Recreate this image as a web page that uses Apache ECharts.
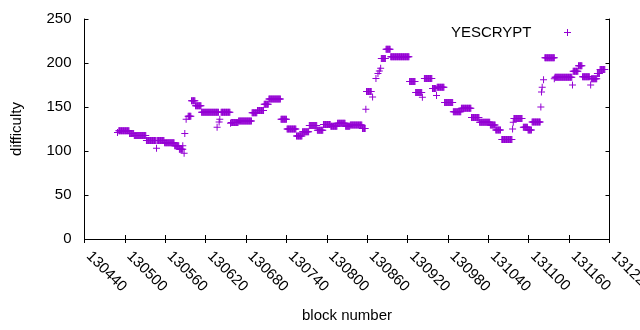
<!DOCTYPE html>
<html>
<head>
<meta charset="utf-8">
<script src="https://cdn.jsdelivr.net/npm/echarts@6/dist/echarts.min.js"></script>
<style>html,body{margin:0;padding:0;background:#fff}#c{width:640px;height:330px}</style>
</head>
<body>
<div id="c"></div>
<script>
// Difficulty per block, stored as runs of constant difficulty
const runStart = [130489,130491,130507,130514,130532,130547,130548,130559,130574,130581,130586,130588,130589,130591,130594,130599,130605,130614,130637,130640,130641,130643,130657,130658,130669,130689,130697,130707,130714,130732,130741,130755,130764,130774,130786,130795,130806,130816,130828,130835,130853,130858,130859,130868,130873,130876,130878,130880,130881,130888,130895,130923,130932,130942,130945,130957,130963,130964,130975,130988,131000,131015,131027,131043,131051,131060,131076,131077,131078,131092,131099,131105,131118,131119,131120,131122,131124,131138,131139,131165,131166,131174,131180,131192,131193,131202,131206];
const runEnd   = [130489,130506,130513,130531,130546,130547,130558,130573,130580,130586,130586,130588,130589,130591,130598,130604,130613,130639,130637,130640,130641,130656,130657,130668,130688,130696,130706,130713,130731,130740,130754,130763,130773,130785,130794,130805,130815,130827,130834,130852,130857,130858,130866,130868,130873,130876,130878,130880,130887,130894,130922,130931,130941,130942,130956,130962,130963,130974,130987,130999,131014,131026,131042,131050,131058,131075,131076,131077,131090,131098,131104,131117,131118,131119,131120,131122,131138,131138,131164,131165,131173,131179,131190,131192,131201,131205,131213];
const runDifficulty = [121,123,120,117.5,112,103,112,109.5,106,102,106,97.5,120,136,139.5,157,151.5,144,127,133,136,144,131.5,132.5,134,143.5,146,153,159,136,125,117,122,129,123.5,130,128,131.5,128,129.5,125.5,147.5,167.5,161.5,182.5,188,191,194,205,215.5,207,179,166.5,161,182.5,171,163,172.5,155,144.5,148.5,138,132.8,129.5,124,113,125,132.6,137,127,124,133,150,167,172.5,181,206,182,183.7,175,190.5,197,184.5,175,182,188,192.5];
const xTicks = {min: 130440, max: 131220, step: 60};
const yTicks = {min: 0, max: 250, step: 50};
const seriesName = 'YESCRYPT';

const points = [];
for (let i = 0; i < runStart.length; i++) {
  for (let b = runStart[i]; b <= runEnd[i]; b++) points.push([b, runDifficulty[i]]);
}

const plus = 'path://M0,3H7V4H0Z M3,0H4V7H3Z';
const font = 'Liberation Sans, Arial, sans-serif';
const purple = '#9400D3';
const chart = echarts.init(document.getElementById('c'), null, {renderer: 'canvas'});
const axisLine = {show: true, lineStyle: {color: '#000', width: 1}};
chart.setOption({
  animation: false,
  backgroundColor: '#fff',
  grid: {left: 84.5, right: 30.5, top: 19, bottom: 91, containLabel: false, outerBoundsMode: 'none'},
  legend: {
    data: [seriesName], right: 64, top: 20, align: 'right',
    icon: plus, itemWidth: 62, itemHeight: 7, itemGap: 5,
    textStyle: {fontFamily: font, fontSize: 15, color: '#000'}
  },
  xAxis: [{
    type: 'value', min: xTicks.min, max: xTicks.max, interval: xTicks.step,
    name: 'block number', nameLocation: 'middle', nameGap: 69,
    nameTextStyle: {fontFamily: font, fontSize: 15, color: '#000'},
    axisLine: axisLine, splitLine: {show: false},
    axisTick: {show: true, inside: true, length: 4, lineStyle: {color: '#000'}},
    axisLabel: {rotate: -45, margin: 19, verticalAlign: 'bottom', lineHeight: 12,
      fontFamily: font, fontSize: 15, color: '#000',
      formatter: v => String(v)}
  }, {
    type: 'value', position: 'top', min: xTicks.min, max: xTicks.max, interval: xTicks.step,
    axisLine: axisLine, splitLine: {show: false},
    axisTick: {show: true, inside: true, length: 4, lineStyle: {color: '#000'}},
    axisLabel: {show: false}
  }],
  yAxis: [{
    type: 'value', min: yTicks.min, max: yTicks.max, interval: yTicks.step,
    name: 'difficulty', nameLocation: 'middle', nameGap: 60, nameRotate: 90,
    nameTextStyle: {fontFamily: font, fontSize: 15, color: '#000'},
    axisLine: axisLine, splitLine: {show: false},
    axisTick: {show: true, inside: true, length: 4, lineStyle: {color: '#000'}},
    axisLabel: {margin: 13, fontFamily: font, fontSize: 15, color: '#000'}
  }, {
    type: 'value', position: 'right', min: yTicks.min, max: yTicks.max, interval: yTicks.step,
    axisLine: axisLine, splitLine: {show: false},
    axisTick: {show: true, inside: true, length: 4, lineStyle: {color: '#000'}},
    axisLabel: {show: false}
  }],
  series: [{
    name: seriesName, type: 'scatter', data: points, xAxisIndex: 0, yAxisIndex: 0,
    symbol: plus, symbolSize: 7, itemStyle: {color: purple, opacity: 1},
    emphasis: {disabled: true}, large: false
  }]
});
</script>
</body>
</html>
